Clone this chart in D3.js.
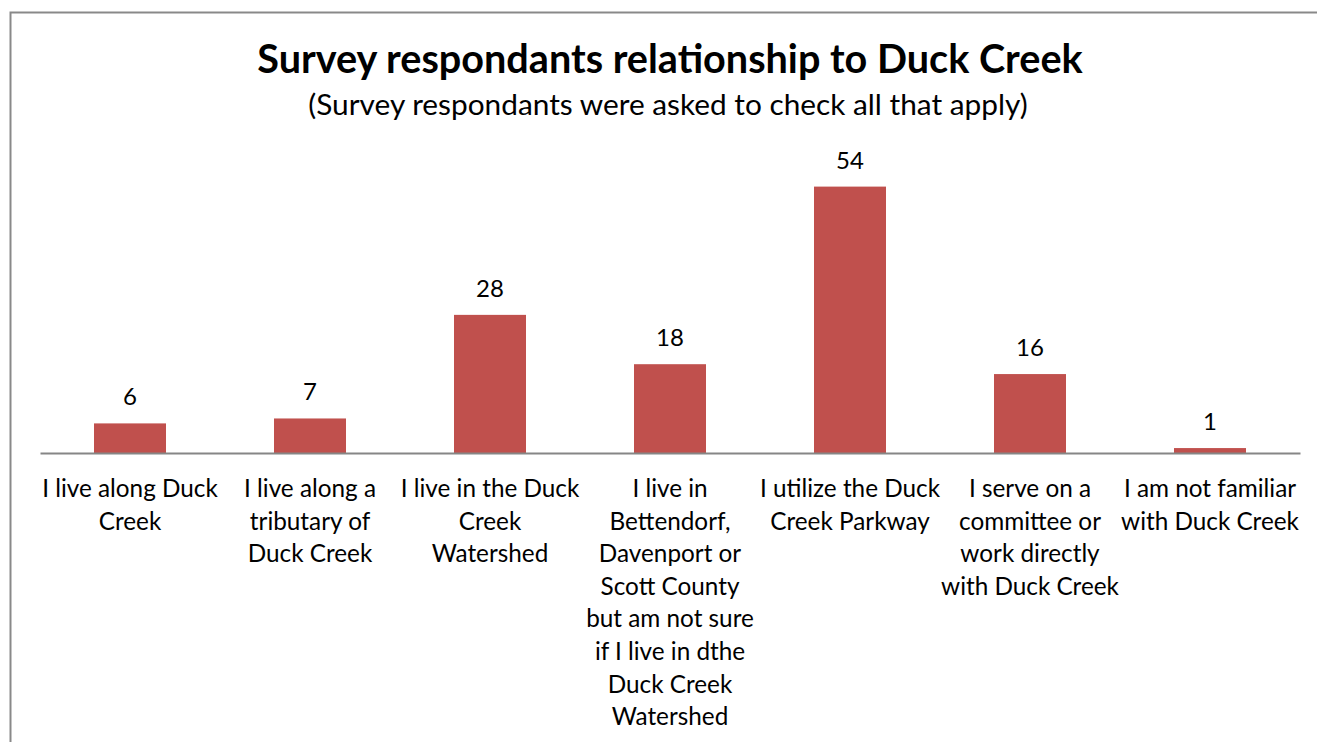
<!DOCTYPE html>
<html>
<head>
<meta charset="utf-8">
<script src="https://cdn.jsdelivr.net/npm/d3@7"></script>
<style>
  html, body { margin: 0; padding: 0; background: #fff; }
  svg { display: block; }
  text { font-family: Lato, "Open Sans", sans-serif; fill: #000; }
</style>
</head>
<body>
<svg id="chart" width="1317" height="742"></svg>
<script>
// Survey responses: how respondents relate to Duck Creek
const categories = [
  "I live along Duck Creek",
  "I live along a tributary of Duck Creek",
  "I live in the Duck Creek Watershed",
  "I live in Bettendorf, Davenport or Scott County but am not sure if I live in dthe Duck Creek Watershed",
  "I utilize the Duck Creek Parkway",
  "I serve on a committee or work directly with Duck Creek",
  "I am not familiar with Duck Creek"
];
const values = [6, 7, 28, 18, 54, 16, 1];
const tickLines = [
  ["I live along Duck", "Creek"],
  ["I live along a", "tributary of", "Duck Creek"],
  ["I live in the Duck", "Creek", "Watershed"],
  ["I live in", "Bettendorf,", "Davenport or", "Scott County", "but am not sure", "if I live in dthe", "Duck Creek", "Watershed"],
  ["I utilize the Duck", "Creek Parkway"],
  ["I serve on a", "committee or", "work directly", "with Duck Creek"],
  ["I am not familiar", "with Duck Creek"]
];
const yDomain = [0, 60];
const titleText = "Survey respondants relationship to Duck Creek";
const subtitleText = "(Survey respondants were asked to check all that apply)";

const svg = d3.select("#chart");

// chart frame (its right and bottom edges fall outside the view)
svg.append("rect")
  .attr("x", 10.5).attr("y", 12.5)
  .attr("width", 1400).attr("height", 900)
  .attr("fill", "#fff")
  .attr("stroke", "#898989")
  .attr("stroke-width", 2);

const plot = { left: 40, right: 1300, top: 157, bottom: 453 };

const x = d3.scaleBand()
  .domain(categories)
  .range([plot.left, plot.right])
  .paddingInner(0.6)
  .paddingOuter(0.3);

const y = d3.scaleLinear()
  .domain(yDomain)
  .range([plot.bottom, plot.top]);

// titles
svg.append("text")
  .attr("x", 670).attr("y", 73)
  .attr("text-anchor", "middle")
  .style("font-weight", "bold")
  .style("font-size", "39.6px")
  .text(titleText);

svg.append("text")
  .attr("x", 668).attr("y", 115)
  .attr("text-anchor", "middle")
  .style("font-size", "29.8px")
  .text(subtitleText);

// bars
svg.append("g")
  .selectAll("rect")
  .data(values)
  .join("rect")
  .attr("x", (d, i) => x(categories[i]))
  .attr("y", d => y(d))
  .attr("width", x.bandwidth())
  .attr("height", d => y(0) - y(d))
  .attr("fill", "#C0504D");

// value labels
svg.append("g")
  .selectAll("text")
  .data(values)
  .join("text")
  .attr("x", (d, i) => x(categories[i]) + x.bandwidth() / 2)
  .attr("y", d => y(d) - 18)
  .attr("text-anchor", "middle")
  .style("font-size", "24px")
  .text(d => d);

// category axis
const axis = svg.append("g")
  .attr("transform", `translate(0,${plot.bottom})`)
  .call(d3.axisBottom(x).tickSize(0).tickSizeOuter(0).tickFormat(() => ""));

axis.select(".domain")
  .attr("stroke", "#868686")
  .attr("stroke-width", 2);

axis.selectAll(".tick text")
  .attr("y", 0)
  .attr("dy", null)
  .style("font-size", "24.3px")
  .attr("fill", "#000")
  .each(function (d) {
    const lines = tickLines[categories.indexOf(d)];
    d3.select(this).selectAll("tspan")
      .data(lines)
      .join("tspan")
      .attr("x", 0)
      .attr("y", (l, j) => 44 + j * 32.6)
      .text(l => l);
  });
</script>
</body>
</html>
